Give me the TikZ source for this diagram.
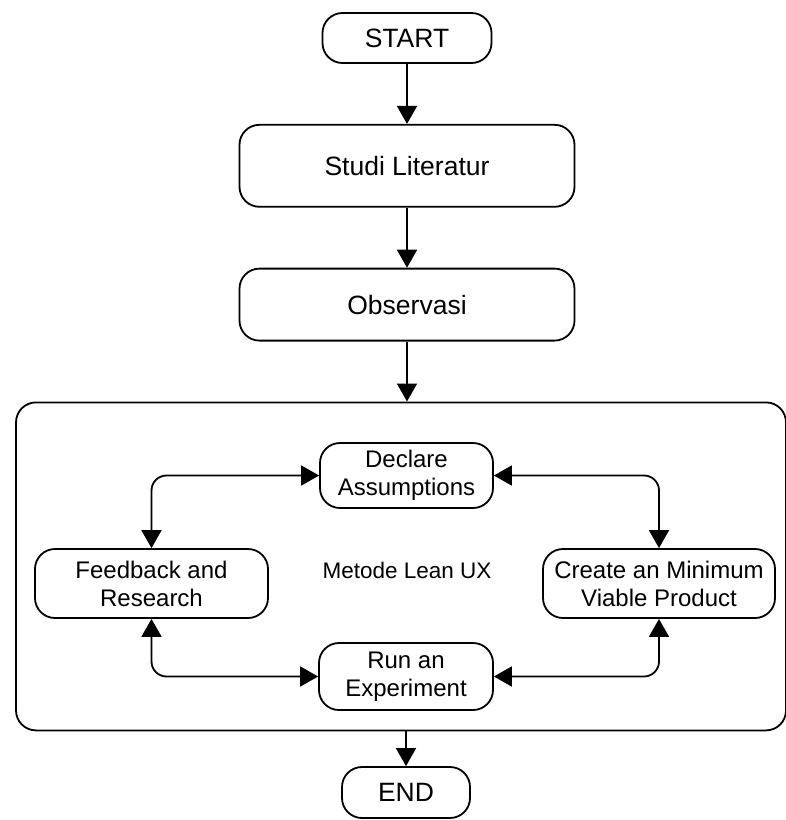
\documentclass[tikz,border=0pt]{standalone}
\usepackage{fontspec}
\setmainfont{Liberation Sans}
\usepackage{tikz}
\usetikzlibrary{arrows.meta}
\usetikzlibrary{positioning}

\tikzset{
  flowbox/.style={draw, line width=1.8pt, rounded corners=20pt, align=center,
    inner sep=2pt, font=\fontsize{24}{28}\selectfont},
  bigtext/.style={font=\fontsize{26.5}{30}\selectfont},
  flowarrow/.style={line width=1.8pt, -{Triangle[width=20pt,length=18pt]}},
  looparrow/.style={line width=1.8pt, rounded corners=15pt,
    {Triangle[width=20pt,length=18pt]}-{Triangle[width=20pt,length=18pt]}}
}

\begin{document}
\begin{tikzpicture}[x=1pt, y=1pt]
    \useasboundingbox (0,0) rectangle (786,-820);

    % main chain
    \node [flowbox, bigtext, minimum width=169pt, minimum height=50pt] (start) at (407,-38) {START};
    \node [flowbox, bigtext, minimum width=335pt, minimum height=82pt, below=60pt of start] (studi) {Studi Literatur};
    \node [flowbox, bigtext, minimum width=335pt, minimum height=72pt, below=60pt of studi] (obs) {Observasi};
    \node [flowbox, minimum width=770pt, minimum height=328pt, below=60pt of obs, xshift=-6pt] (lean) {};

    % lean ux cycle
    \node [flowbox, minimum width=173pt, minimum height=65pt] (declare) at (406.5,-475.5) {Declare\\Assumptions};
    \node [flowbox, minimum width=233pt, minimum height=69pt] (feedback) at (151.5,-583.5) {Feedback and\\Research};
    \node [flowbox, minimum width=232pt, minimum height=69pt] (create) at (659,-583.5) {Create an Minimum\\Viable Product};
    \node [flowbox, minimum width=174pt, minimum height=67pt] (run) at (406,-676.5) {Run an\\Experiment};
    \node [font=\fontsize{22.5}{27}\selectfont] (metode) at (407,-570) {Metode Lean UX};

    \node [flowbox, bigtext, minimum width=128pt, minimum height=51pt] (end) at (406,-792.5) {END};

    \draw [flowarrow] (start) -- (studi);
    \draw [flowarrow] (studi) -- (obs);
    \draw [flowarrow] (obs.south) -- (obs.south |- lean.north);
    \draw [flowarrow] (end.north |- lean.south) -- (end);

    \draw [looparrow] (declare.west) -| (feedback.north);
    \draw [looparrow] (declare.east) -| (create.north);
    \draw [looparrow] (feedback.south) |- (run.west);
    \draw [looparrow] (create.south) |- (run.east);
\end{tikzpicture}
\end{document}
